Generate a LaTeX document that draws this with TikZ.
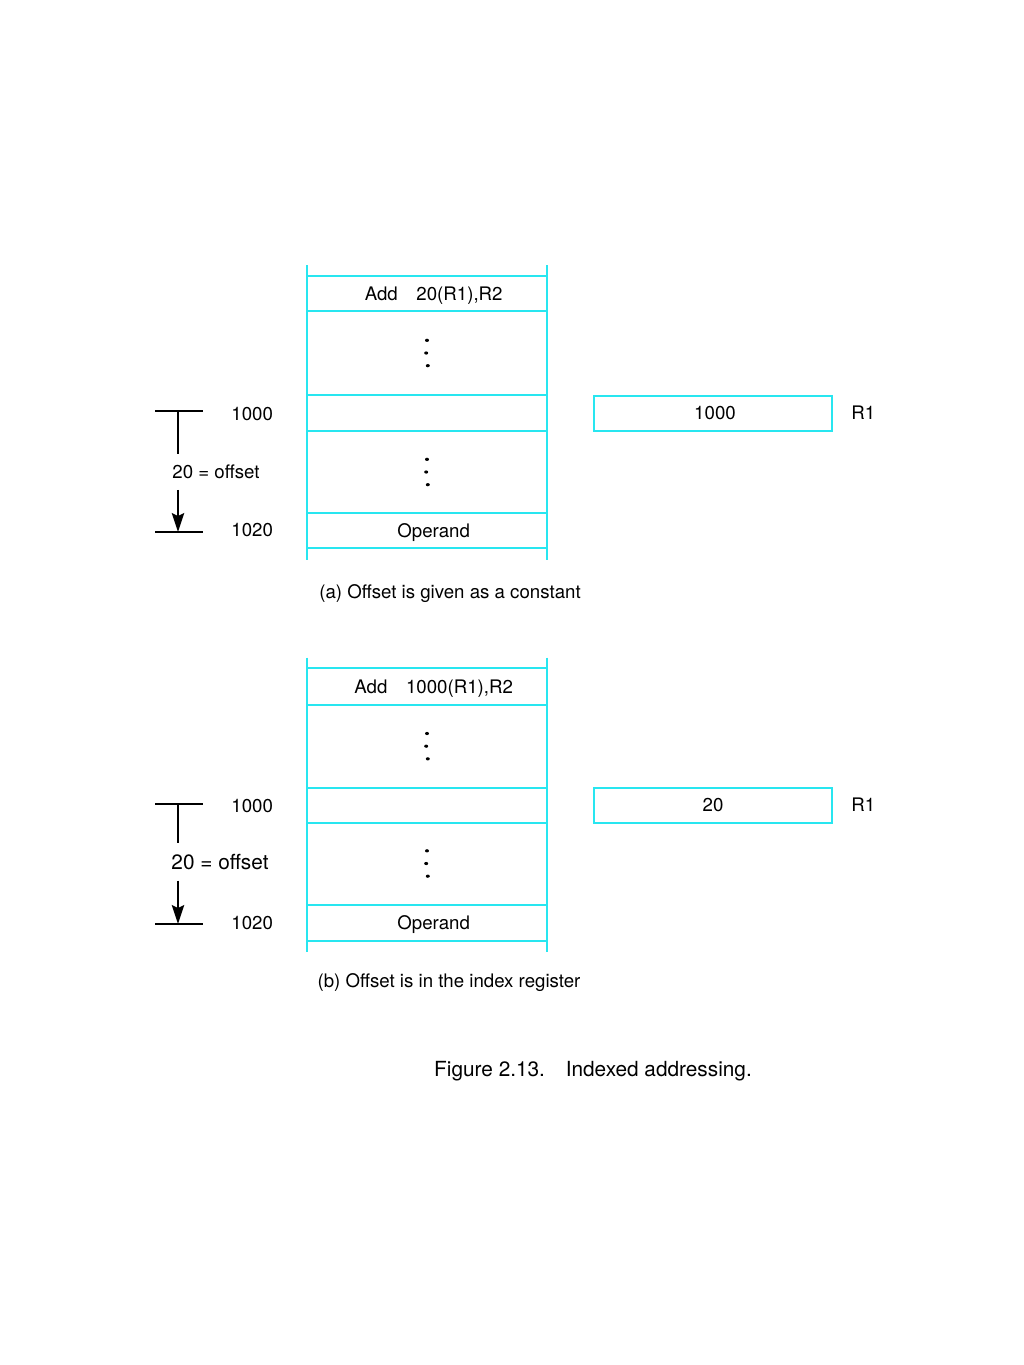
\documentclass[tikz,border=0pt]{standalone}
\usepackage{fontspec}
\setmainfont{TeX Gyre Heros}
\usetikzlibrary{arrows.meta, positioning, calc}
\definecolor{memcyan}{RGB}{40,230,240}

\begin{document}
\begin{tikzpicture}[x=0.75pt, y=-0.75pt, node distance=0pt and 35.25pt,
    >={Stealth[length=14pt, width=9pt, inset=2pt]},
    txt/.style={font=\fontsize{14}{17}\selectfont},
    bigtxt/.style={font=\fontsize{15.6}{19}\selectfont},
    celltext/.style={txt, xshift=5pt, yshift=-1.5pt},
    cell/.style={draw=memcyan, line width=1.5pt, rectangle, minimum width=180pt, inner sep=0pt, outer sep=0pt},
    slot/.style={cell, minimum height=26.25pt},
    gap/.style={cell, minimum height=62pt},
    reg/.style={cell, minimum width=178.5pt, minimum height=26.25pt, txt},
    wall/.style={draw=memcyan, line width=1.5pt},
    bar/.style={line width=2.2pt},
    offlabel/.style={inner ysep=8pt}]

    \useasboundingbox (0,0) rectangle (1024,1365);

    % (a) offset given as a constant
    \node (instA) [slot] at (427,293.5) {};
    \node (gapA1) [gap, minimum height=63pt, below=of instA] {};
    \node (cellA) [slot, minimum height=27pt, below=of gapA1] {};
    \node (gapA2) [gap, minimum height=61.5pt, below=of cellA] {};
    \node (opA) [slot, below=of gapA2] {};
    \draw[wall] ([yshift=8pt]instA.north west) -- ([yshift=-9pt]opA.south west);
    \draw[wall] ([yshift=8pt]instA.north east) -- ([yshift=-9pt]opA.south east);
    \node (instAt) [celltext] at (instA.center) {Add\quad 20(R1),R2};
    \node (opAt) [celltext] at (opA.center) {Operand};

    \node (regA) [reg, right=of cellA] {\hspace*{3pt}1000};
    \node (rA) [txt, right=11pt of regA] {R1};
    \node (adrA1) [txt, left=22pt of cellA, yshift=-1pt] {1000};
    \node (adrA2) [txt, left=22pt of opA] {1020};

    \coordinate (topA) at (178,411);
    \coordinate (botA) at (178,532);
    \node (offA) [txt, offlabel] at (216,472) {20 = offset};
    \draw[bar] ([xshift=-17pt]topA) -- ([xshift=19pt]topA);
    \draw[bar] ([xshift=-17pt]botA) -- ([xshift=19pt]botA);
    \draw[bar] (topA) -- (topA |- offA.north);
    \draw[bar, ->] (topA |- offA.south) -- (botA);

    \node (capA) [txt] at (450,594) {(a) Offset is given as a constant};

    % (b) offset held in the index register
    \node (instB) [slot, minimum height=27.5pt] at (427,686.5) {};
    \node (gapB1) [gap, below=of instB] {};
    \node (cellB) [slot, below=of gapB1] {};
    \node (gapB2) [gap, minimum height=61.5pt, below=of cellB] {};
    \node (opB) [slot, minimum height=27.5pt, below=of gapB2] {};
    \draw[wall] ([yshift=8pt]instB.north west) -- ([yshift=-8pt]opB.south west);
    \draw[wall] ([yshift=8pt]instB.north east) -- ([yshift=-8pt]opB.south east);
    \node (instBt) [celltext] at (instB.center) {Add\quad 1000(R1),R2};
    \node (opBt) [celltext] at (opB.center) {Operand};

    \node (regB) [reg, right=of cellB] {20};
    \node (rB) [txt, right=11pt of regB] {R1};
    \node (adrB1) [txt, left=22pt of cellB, yshift=-1pt] {1000};
    \node (adrB2) [txt, left=22pt of opB] {1020};

    \coordinate (topB) at (178,804);
    \coordinate (botB) at (178,924);
    \node (offB) [bigtxt, offlabel] at (220,862) {20 = offset};
    \draw[bar] ([xshift=-17pt]topB) -- ([xshift=19pt]topB);
    \draw[bar] ([xshift=-17pt]botB) -- ([xshift=19pt]botB);
    \draw[bar] (topB) -- (topB |- offB.north);
    \draw[bar, ->] (topB |- offB.south) -- (botB);

    \node (capB) [txt] at (449,983) {(b) Offset is in the index register};

    % dots in the gaps
    \foreach \g in {gapA1, gapA2, gapB1, gapB2}{
        \foreach \d/\s in {-9.5pt/0.6pt, 0pt/-0.6pt, 9.5pt/0pt}
            \fill ([xshift=\s, yshift=\d]\g.center) ellipse (1.5pt and 1.2pt);
    }

    \node (fig) [bigtxt] at (593,1071) {Figure 2.13.\quad Indexed addressing.};
\end{tikzpicture}
\end{document}
